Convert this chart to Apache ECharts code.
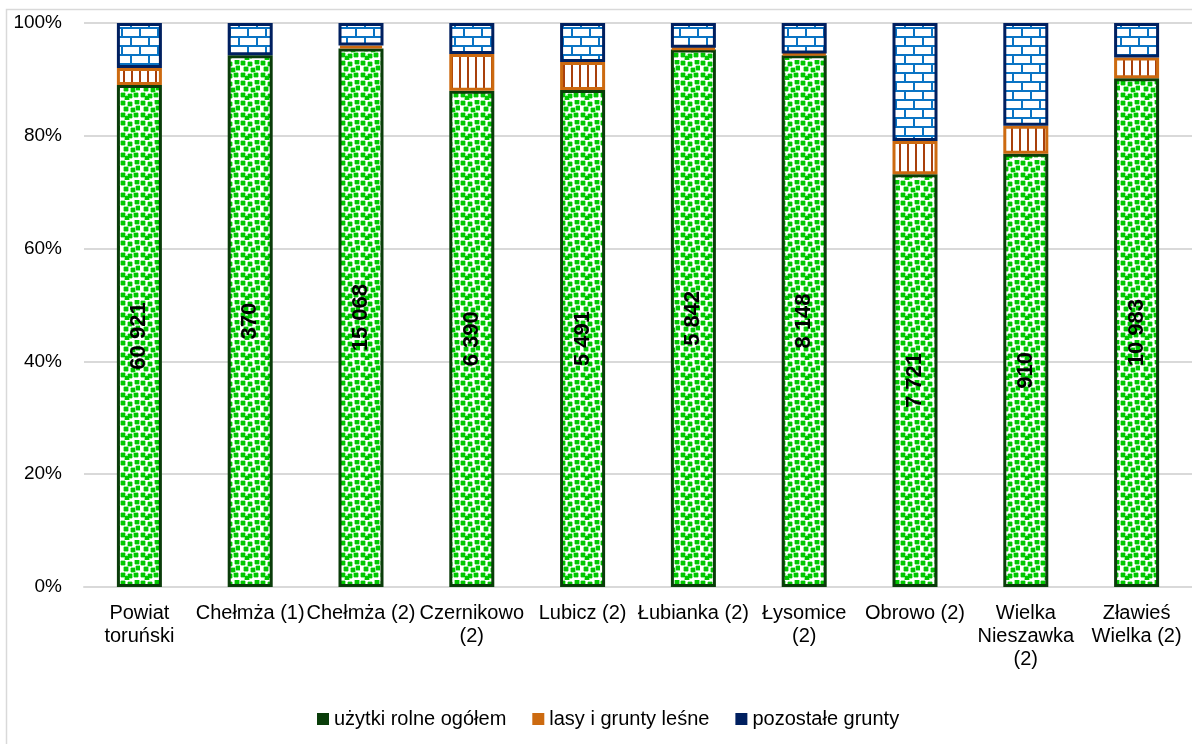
<!DOCTYPE html>
<html>
<head>
<meta charset="utf-8">
<script src="https://cdn.jsdelivr.net/npm/echarts@6/dist/echarts.min.js"></script>
<style>
  html, body { margin: 0; padding: 0; background: #fff; }
  #chart { width: 1192px; height: 744px; }
</style>
</head>
<body>
<div id="chart"></div>
<script>
var categories = ['Powiat\ntoruński', 'Chełmża (1)', 'Chełmża (2)', 'Czernikowo\n(2)', 'Lubicz (2)',
  'Łubianka (2)', 'Łysomice\n(2)', 'Obrowo (2)', 'Wielka\nNieszawka\n(2)', 'Zławieś\nWielka (2)'];
var seriesNames = ['użytki rolne ogółem', 'lasy i grunty leśne', 'pozostałe grunty'];
// shares in %
var rolne = [89.0, 94.3, 95.5, 88.0, 88.1, 95.3, 94.3, 73.2, 76.8, 90.2];
var lasy = [3.0, 0, 0.5, 6.5, 5.0, 0.3, 0.3, 5.9, 5.0, 3.7];
var pozostale = [8.0, 5.7, 4.0, 5.5, 6.9, 4.4, 5.4, 20.9, 18.2, 6.1];
// labels printed on the green part (ha)
var rolneLabels = ['60 921', '370', '15 068', '6 390', '5 491', '5 842', '8 148', '7 721', '910', '10 983'];
var yTicks = [0, 20, 40, 60, 80, 100];

var FONT = '"Liberation Sans Narrow", "Arial Narrow", "Liberation Sans", sans-serif';

function tile(w, h, draw) {
  var c = document.createElement('canvas');
  c.width = w; c.height = h;
  var ctx = c.getContext('2d');
  ctx.fillStyle = '#fff';
  ctx.fillRect(0, 0, w, h);
  draw(ctx);
  return c;
}

// small confetti (green)
var dots = tile(20, 20, function (ctx) {
  var pts = [[1,1],[8,2],[15,0],[4,7],[11,8],[16,6],[1,13],[8,14],[14,13],[5,16]];
  ctx.fillStyle = '#9ae89a';
  pts.forEach(function (p) { ctx.fillRect(p[0] - 1, p[1], 6, 4); ctx.fillRect(p[0], p[1] - 1, 4, 6); });
  ctx.fillStyle = '#00c800';
  pts.forEach(function (p) { ctx.fillRect(p[0], p[1], 4, 4); });
});
// vertical stripes (orange)
var stripes = tile(8, 8, function (ctx) {
  ctx.fillStyle = '#a8400c';
  ctx.fillRect(3, 0, 2, 8);
});
// bricks (blue)
var bricks = tile(18, 18, function (ctx) {
  ctx.fillStyle = '#0a74c4';
  ctx.fillRect(0, 0, 18, 2);
  ctx.fillRect(0, 9, 18, 2);
  ctx.fillRect(4, 0, 2, 9);
  ctx.fillRect(13, 9, 2, 9);
});

function nz(arr) {
  return arr.map(function (v) { return v === 0 ? null : v; });
}

var chart = echarts.init(document.getElementById('chart'));
chart.setOption({
  animation: false,
  backgroundColor: '#fff',
  graphic: [{
    type: 'rect',
    shape: { x: 6.5, y: 9.5, width: 1300, height: 900 },
    style: { fill: 'none', stroke: '#d9d9d9', lineWidth: 1.5 },
    silent: true
  }],
  grid: { left: 84, top: 23, width: 1112, height: 564 },
  legend: {
    left: 312, top: 704,
    itemWidth: 12, itemHeight: 12, itemGap: 26,
    textStyle: { fontFamily: FONT, fontSize: 20, color: '#000' },
    data: [
      { name: seriesNames[0], icon: 'rect', itemStyle: { color: '#0a3d0a', borderWidth: 0 } },
      { name: seriesNames[1], icon: 'rect', itemStyle: { color: '#cc6a10', borderWidth: 0 } },
      { name: seriesNames[2], icon: 'rect', itemStyle: { color: '#002060', borderWidth: 0 } }
    ]
  },
  xAxis: {
    type: 'category',
    data: categories,
    axisLine: { lineStyle: { color: '#d9d9d9', width: 2 } },
    axisTick: { show: false },
    axisLabel: { fontFamily: FONT, fontSize: 20, color: '#000', lineHeight: 23, margin: 15, interval: 0 }
  },
  yAxis: {
    type: 'value',
    min: yTicks[0], max: yTicks[yTicks.length - 1], interval: 20,
    axisLine: { show: false },
    axisTick: { show: false },
    splitLine: { lineStyle: { color: '#d9d9d9', width: 2 } },
    axisLabel: { fontFamily: FONT, fontSize: 19, color: '#000', margin: 22, formatter: '{value}%' }
  },
  series: [{
    name: seriesNames[0], type: 'bar', stack: 'all', barWidth: 45,
    data: rolne,
    itemStyle: { color: { image: dots, repeat: 'repeat' }, borderColor: '#0a3d0a', borderWidth: 3 },
    label: {
      show: true, position: 'inside', rotate: 90,
      fontFamily: FONT, fontSize: 22, fontWeight: 'bold', color: '#000',
      formatter: function (p) { return rolneLabels[p.dataIndex]; }
    }
  }, {
    name: seriesNames[1], type: 'bar', stack: 'all', barWidth: 45,
    data: nz(lasy),
    itemStyle: { color: { image: stripes, repeat: 'repeat' }, borderColor: '#cc6a10', borderWidth: 3 }
  }, {
    name: seriesNames[2], type: 'bar', stack: 'all', barWidth: 45,
    data: pozostale,
    itemStyle: { color: { image: bricks, repeat: 'repeat' }, borderColor: '#002060', borderWidth: 3 }
  }]
});
</script>
</body>
</html>
